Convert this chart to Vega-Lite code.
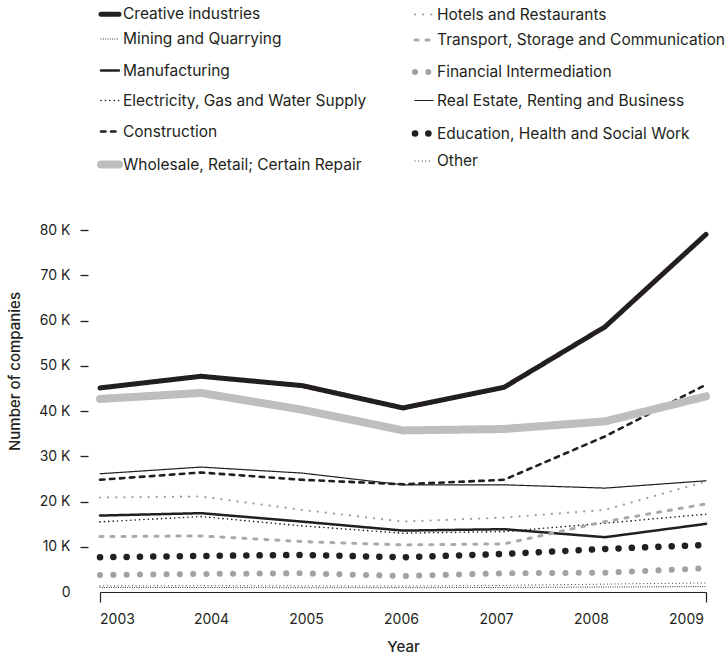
{
  "$schema": "https://vega.github.io/schema/vega-lite/v6.json",
  "width": 606,
  "height": 362,
  "autosize": "none",
  "padding": {"left": 100, "top": 230, "right": 20, "bottom": 64},
  "background": "white",
  "config": {
    "view": {"stroke": null},
    "font": "Inter",
    "axis": {"labelFont": "Inter", "titleFont": "Inter", "labelColor": "#231f20", "titleColor": "#231f20", "labelFontSize": 14, "titleFontSize": 15, "titleFontWeight": 500, "grid": false},
    "legend": {"labelFont": "Inter", "labelFontSize": 15.5, "labelColor": "#231f20"}
  },
  "data": {"values": [
    {"year": 2003, "sector": "Creative industries", "companies": 45100},
    {"year": 2004, "sector": "Creative industries", "companies": 47670},
    {"year": 2005, "sector": "Creative industries", "companies": 45610},
    {"year": 2006, "sector": "Creative industries", "companies": 40670},
    {"year": 2007, "sector": "Creative industries", "companies": 45230},
    {"year": 2008, "sector": "Creative industries", "companies": 58600},
    {"year": 2009, "sector": "Creative industries", "companies": 79040},
    {"year": 2003, "sector": "Mining and Quarrying", "companies": 1000},
    {"year": 2004, "sector": "Mining and Quarrying", "companies": 1000},
    {"year": 2005, "sector": "Mining and Quarrying", "companies": 950},
    {"year": 2006, "sector": "Mining and Quarrying", "companies": 950},
    {"year": 2007, "sector": "Mining and Quarrying", "companies": 1000},
    {"year": 2008, "sector": "Mining and Quarrying", "companies": 1100},
    {"year": 2009, "sector": "Mining and Quarrying", "companies": 1200},
    {"year": 2003, "sector": "Manufacturing", "companies": 16890},
    {"year": 2004, "sector": "Manufacturing", "companies": 17420},
    {"year": 2005, "sector": "Manufacturing", "companies": 15560},
    {"year": 2006, "sector": "Manufacturing", "companies": 13570},
    {"year": 2007, "sector": "Manufacturing", "companies": 13880},
    {"year": 2008, "sector": "Manufacturing", "companies": 12110},
    {"year": 2009, "sector": "Manufacturing", "companies": 15060},
    {"year": 2003, "sector": "Electricity, Gas and Water Supply", "companies": 15500},
    {"year": 2004, "sector": "Electricity, Gas and Water Supply", "companies": 16670},
    {"year": 2005, "sector": "Electricity, Gas and Water Supply", "companies": 14610},
    {"year": 2006, "sector": "Electricity, Gas and Water Supply", "companies": 12990},
    {"year": 2007, "sector": "Electricity, Gas and Water Supply", "companies": 13350},
    {"year": 2008, "sector": "Electricity, Gas and Water Supply", "companies": 15210},
    {"year": 2009, "sector": "Electricity, Gas and Water Supply", "companies": 17200},
    {"year": 2003, "sector": "Construction", "companies": 24800},
    {"year": 2004, "sector": "Construction", "companies": 26410},
    {"year": 2005, "sector": "Construction", "companies": 24800},
    {"year": 2006, "sector": "Construction", "companies": 23800},
    {"year": 2007, "sector": "Construction", "companies": 24800},
    {"year": 2008, "sector": "Construction", "companies": 34380},
    {"year": 2009, "sector": "Construction", "companies": 45830},
    {"year": 2003, "sector": "Wholesale, Retail; Certain Repair", "companies": 42660},
    {"year": 2004, "sector": "Wholesale, Retail; Certain Repair", "companies": 43990},
    {"year": 2005, "sector": "Wholesale, Retail; Certain Repair", "companies": 40290},
    {"year": 2006, "sector": "Wholesale, Retail; Certain Repair", "companies": 35710},
    {"year": 2007, "sector": "Wholesale, Retail; Certain Repair", "companies": 36020},
    {"year": 2008, "sector": "Wholesale, Retail; Certain Repair", "companies": 37700},
    {"year": 2009, "sector": "Wholesale, Retail; Certain Repair", "companies": 43240},
    {"year": 2003, "sector": "Hotels and Restaurants", "companies": 20880},
    {"year": 2004, "sector": "Hotels and Restaurants", "companies": 21100},
    {"year": 2005, "sector": "Hotels and Restaurants", "companies": 18150},
    {"year": 2006, "sector": "Hotels and Restaurants", "companies": 15560},
    {"year": 2007, "sector": "Hotels and Restaurants", "companies": 16450},
    {"year": 2008, "sector": "Hotels and Restaurants", "companies": 18150},
    {"year": 2009, "sector": "Hotels and Restaurants", "companies": 24420},
    {"year": 2003, "sector": "Transport, Storage and Communication", "companies": 12240},
    {"year": 2004, "sector": "Transport, Storage and Communication", "companies": 12400},
    {"year": 2005, "sector": "Transport, Storage and Communication", "companies": 11140},
    {"year": 2006, "sector": "Transport, Storage and Communication", "companies": 10400},
    {"year": 2007, "sector": "Transport, Storage and Communication", "companies": 10630},
    {"year": 2008, "sector": "Transport, Storage and Communication", "companies": 15560},
    {"year": 2009, "sector": "Transport, Storage and Communication", "companies": 19480},
    {"year": 2003, "sector": "Financial Intermediation", "companies": 3760},
    {"year": 2004, "sector": "Financial Intermediation", "companies": 3990},
    {"year": 2005, "sector": "Financial Intermediation", "companies": 4140},
    {"year": 2006, "sector": "Financial Intermediation", "companies": 3540},
    {"year": 2007, "sector": "Financial Intermediation", "companies": 4140},
    {"year": 2008, "sector": "Financial Intermediation", "companies": 4270},
    {"year": 2009, "sector": "Financial Intermediation", "companies": 5250},
    {"year": 2003, "sector": "Real Estate, Renting and Business", "companies": 26130},
    {"year": 2004, "sector": "Real Estate, Renting and Business", "companies": 27610},
    {"year": 2005, "sector": "Real Estate, Renting and Business", "companies": 26280},
    {"year": 2006, "sector": "Real Estate, Renting and Business", "companies": 23690},
    {"year": 2007, "sector": "Real Estate, Renting and Business", "companies": 23690},
    {"year": 2008, "sector": "Real Estate, Renting and Business", "companies": 22960},
    {"year": 2009, "sector": "Real Estate, Renting and Business", "companies": 24580},
    {"year": 2003, "sector": "Education, Health and Social Work", "companies": 7680},
    {"year": 2004, "sector": "Education, Health and Social Work", "companies": 7970},
    {"year": 2005, "sector": "Education, Health and Social Work", "companies": 8190},
    {"year": 2006, "sector": "Education, Health and Social Work", "companies": 7680},
    {"year": 2007, "sector": "Education, Health and Social Work", "companies": 8410},
    {"year": 2008, "sector": "Education, Health and Social Work", "companies": 9520},
    {"year": 2009, "sector": "Education, Health and Social Work", "companies": 10400},
    {"year": 2003, "sector": "Other", "companies": 1350},
    {"year": 2004, "sector": "Other", "companies": 1400},
    {"year": 2005, "sector": "Other", "companies": 1350},
    {"year": 2006, "sector": "Other", "companies": 1300},
    {"year": 2007, "sector": "Other", "companies": 1450},
    {"year": 2008, "sector": "Other", "companies": 1750},
    {"year": 2009, "sector": "Other", "companies": 2000}
  ]},
  "mark": {"type": "line", "strokeCap": "round", "strokeJoin": "round"},
  "encoding": {
    "x": {
      "field": "year", "type": "quantitative", "title": "Year",
      "scale": {"domain": [2003, 2009], "nice": false, "zero": false},
      "axis": {
        "values": [2003, 2004, 2005, 2006, 2007, 2008, 2009], "format": "d",
        "labelFlush": false,
        "domainColor": "#231f20", "domainWidth": 1.2,
        "tickColor": "#231f20", "tickWidth": 1.2, "tickSize": 10,
        "tickOpacity": {"condition": {"test": "datum.value == 2003 || datum.value == 2009", "value": 1}, "value": 0},
        "labelPadding": 10, "titlePadding": 13,
        "labelOffset": {"condition": [
          {"test": "datum.value == 2003", "value": 17},
          {"test": "datum.value == 2004", "value": 10},
          {"test": "datum.value == 2005", "value": 4},
          {"test": "datum.value == 2006", "value": -2},
          {"test": "datum.value == 2007", "value": -8},
          {"test": "datum.value == 2008", "value": -14},
          {"test": "datum.value == 2009", "value": -20}
        ], "value": 0}
      }
    },
    "y": {
      "field": "companies", "type": "quantitative", "title": "Number of companies",
      "scale": {"domain": [0, 80000], "nice": false},
      "axis": {
        "values": [0, 10000, 20000, 30000, 40000, 50000, 60000, 70000, 80000],
        "labelExpr": "datum.value == 0 ? '0' : (datum.value / 1000) + ' K'",
        "domain": false, "offset": 12, "tickSize": 8, "tickWidth": 1.3, "tickColor": "#231f20",
        "tickOpacity": {"condition": {"test": "datum.value == 0", "value": 0}, "value": 1},
        "labelPadding": 10, "titlePadding": 16, "titleY": 141
      }
    },
    "color": {
      "field": "sector", "type": "nominal",
      "scale": {
        "domain": ["Creative industries", "Mining and Quarrying", "Manufacturing", "Electricity, Gas and Water Supply", "Construction", "Wholesale, Retail; Certain Repair", "Hotels and Restaurants", "Transport, Storage and Communication", "Financial Intermediation", "Real Estate, Renting and Business", "Education, Health and Social Work", "Other"],
        "range": ["#231f20", "#231f20", "#231f20", "#231f20", "#231f20", "#bcbec0", "#9d9fa2", "#a7a9ac", "#a0a2a5", "#231f20", "#231f20", "#231f20"]
      },
      "legend": {
        "title": null, "orient": "none", "legendX": -3, "legendY": -231, "columns": 2,
        "gridAlign": "all",
        "columnPadding": -20, "rowPadding": -1.5, "symbolType": "stroke", "symbolSize": 324,
        "labelOffset": 0, "labelLimit": 400,
        "encode": {"symbols": {"update": {"strokeCap": {"value": "round"}}}}
      }
    },
    "strokeDash": {
      "field": "sector", "type": "nominal",
      "scale": {
        "domain": ["Creative industries", "Mining and Quarrying", "Manufacturing", "Electricity, Gas and Water Supply", "Construction", "Wholesale, Retail; Certain Repair", "Hotels and Restaurants", "Transport, Storage and Communication", "Financial Intermediation", "Real Estate, Renting and Business", "Education, Health and Social Work", "Other"],
        "range": [[1, 0], [0.1, 2.2], [1, 0], [0.1, 4.3], [4.5, 5.5], [1, 0], [0.1, 8], [3, 8], [0.1, 13.2], [1, 0], [0.1, 13.2], [0.1, 3.5]]
      }
    },
    "strokeWidth": {
      "field": "sector", "type": "nominal",
      "scale": {
        "type": "ordinal",
        "domain": ["Creative industries", "Mining and Quarrying", "Manufacturing", "Electricity, Gas and Water Supply", "Construction", "Wholesale, Retail; Certain Repair", "Hotels and Restaurants", "Transport, Storage and Communication", "Financial Intermediation", "Real Estate, Renting and Business", "Education, Health and Social Work", "Other"],
        "range": [5, 1, 2.5, 1.6, 2.6, 8, 2.2, 3, 6, 1.2, 6.5, 1]
      }
    }
  }
}
